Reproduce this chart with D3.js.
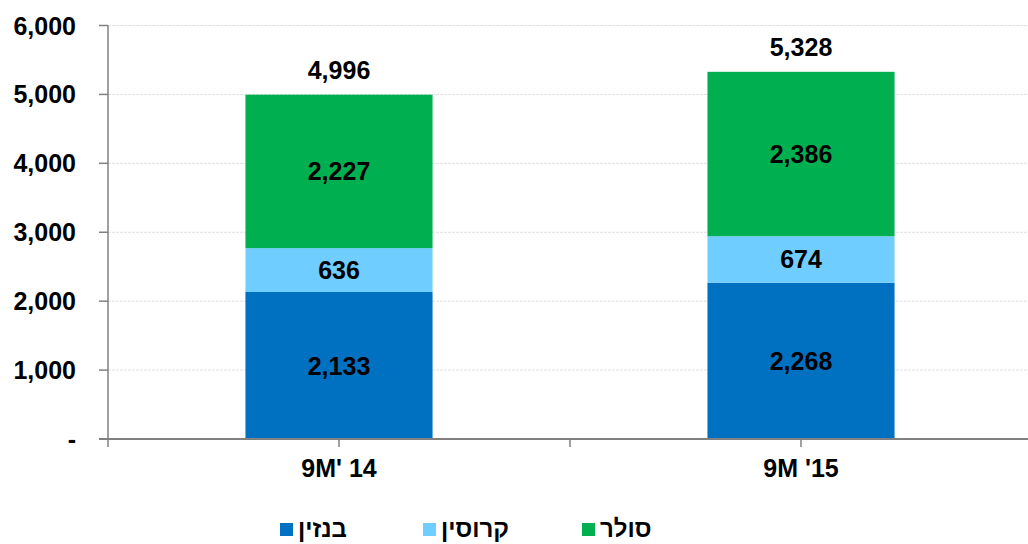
<!DOCTYPE html>
<html><head><meta charset="utf-8">
<script src="https://cdn.jsdelivr.net/npm/d3@7"></script>
<style>body{margin:0;background:#fff}svg{display:block}text{font-family:"Liberation Sans",Arial,sans-serif;font-weight:bold;fill:#000}</style>
</head><body><svg id="c" width="1028" height="544"></svg>
<script>
const categories = ["9M' 14", "9M '15"];
const seriesNames = ["בנזין", "קרוסין", "סולר"];
const benzin = [2133, 2268];
const kerosene = [636, 674];
const solar = [2227, 2386];
const totals = [4996, 5328];
const yTicks = [0, 1000, 2000, 3000, 4000, 5000, 6000];
const colors = ["#0070C0", "#6FCDFF", "#00B050"];

(function(){
const svg = d3.select("#c");
const mLeft = 108, mRight = 1032, mTop = 25.5, mBottom = 439;
const fs = 25;
const x = d3.scaleBand().domain(categories).range([mLeft, mRight]).paddingInner(0).paddingOuter(0);
const y = d3.scaleLinear().domain([0, 6000]).range([mBottom, mTop]);
const barW = x.bandwidth() * 0.405;

// gridlines
svg.append("g").selectAll("line").data(yTicks.filter(d => d > 0)).join("line")
  .attr("x1", mLeft).attr("x2", 1028).attr("y1", d => y(d)).attr("y2", d => y(d))
  .attr("stroke", "#e0e0e0").attr("stroke-width", 1).attr("stroke-dasharray", "3,1");

// stacked data
const rows = categories.map((c, i) => ({cat: c, "בנזין": benzin[i], "קרוסין": kerosene[i], "סולר": solar[i]}));
const stack = d3.stack().keys(seriesNames)(rows);
const g = svg.append("g");
stack.forEach((s, si) => {
  g.selectAll(null).data(s).join("rect")
    .attr("x", d => x(d.data.cat) + (x.bandwidth() - barW) / 2)
    .attr("width", barW)
    .attr("y", d => y(d[1]))
    .attr("height", d => y(d[0]) - y(d[1]))
    .attr("fill", colors[si]);
  g.selectAll(null).data(s).join("text")
    .attr("x", d => x(d.data.cat) + x.bandwidth() / 2)
    .attr("y", d => (y(d[0]) + y(d[1])) / 2)
    .attr("dy", "0.36em").attr("text-anchor", "middle").attr("font-size", fs)
    .text(d => d3.format(",")(d[1] - d[0]));
});
// totals
g.selectAll(null).data(totals).join("text")
  .attr("x", (d, i) => x(categories[i]) + x.bandwidth() / 2)
  .attr("y", d => y(d) - 16)
  .attr("text-anchor", "middle").attr("font-size", fs)
  .text(d => d3.format(",")(d));

// y axis
const yAxis = svg.append("g");
yAxis.append("line").attr("x1", mLeft).attr("x2", mLeft).attr("y1", mTop).attr("y2", mBottom + 8).attr("stroke", "#808080").attr("stroke-width", 1.5);
yAxis.selectAll(".t").data(yTicks).join("line")
  .attr("x1", mLeft - 9).attr("x2", mLeft).attr("y1", d => y(d)).attr("y2", d => y(d))
  .attr("stroke", "#808080").attr("stroke-width", 1.5);
yAxis.selectAll("text").data(yTicks).join("text")
  .attr("x", 76).attr("y", d => y(d)).attr("dy", "0.36em").attr("text-anchor", "end").attr("font-size", fs)
  .text(d => d === 0 ? "-" : d3.format(",")(d));

// x axis
const xAxis = svg.append("g");
xAxis.append("line").attr("x1", mLeft - 9).attr("x2", 1028).attr("y1", mBottom).attr("y2", mBottom).attr("stroke", "#808080").attr("stroke-width", 2);
const xTickPos = [x(categories[0]) + x.bandwidth() / 2, x(categories[1]), x(categories[1]) + x.bandwidth() / 2];
xAxis.selectAll(".t").data(xTickPos).join("line")
  .attr("x1", d => d).attr("x2", d => d).attr("y1", mBottom).attr("y2", mBottom + 8)
  .attr("stroke", "#808080").attr("stroke-width", 1.5);
xAxis.selectAll("text").data(categories).join("text")
  .attr("x", d => x(d) + x.bandwidth() / 2).attr("y", 477).attr("text-anchor", "middle").attr("font-size", fs)
  .text(d => d);

// legend
const legX = [280, 423, 582];
const lg = svg.append("g");
seriesNames.forEach((n, i) => {
  lg.append("rect").attr("x", legX[i]).attr("y", 523).attr("width", 13).attr("height", 13).attr("fill", colors[i]);
  lg.append("text").attr("x", legX[i] + 18).attr("y", 537).attr("font-size", 24).attr("text-anchor", "start").text(n);
});
})();
</script></body></html>
